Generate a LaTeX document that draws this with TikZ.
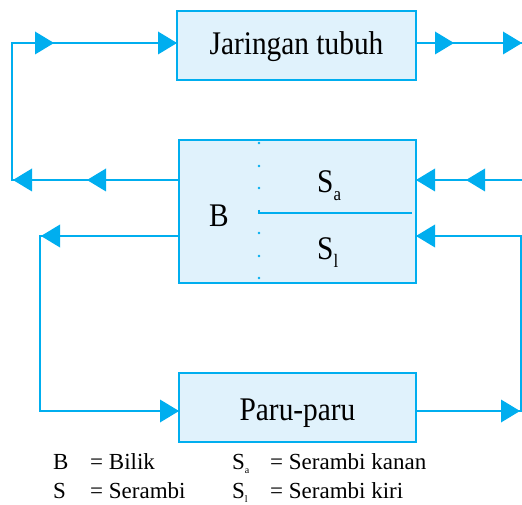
\documentclass[tikz,border=0pt]{standalone}
\usepackage{fontspec}
\setmainfont{Liberation Serif}
\newfontfamily\boxfont[FakeStretch=0.89]{Liberation Serif}
\usetikzlibrary{decorations.markings}
\definecolor{lineblue}{HTML}{00AEEF}
\definecolor{boxfill}{HTML}{E0F2FC}
\newcommand\flowtip{\fill[lineblue] (0pt,0pt) -- (-19pt,11.5pt) -- (-19pt,-11.5pt) -- cycle;}
\newcommand\bigsub[1]{\raisebox{-8pt}{\fontsize{19}{19}\selectfont #1}}
\newcommand\smallsub[1]{\raisebox{-4.5pt}{\fontsize{10}{10}\selectfont #1}}
\tikzset{
  organ/.style={draw=lineblue, fill=boxfill, line width=2pt, inner sep=0pt, outer sep=0pt,
    minimum width=237pt, minimum height=69pt, text depth=0pt,
    font=\boxfont\fontsize{33}{34}\selectfont},
  flow/.style={draw=lineblue, line width=2.2pt, postaction={decorate}},
  inbox/.style={inner sep=0pt, anchor=base west, font=\boxfont\fontsize{33}{34}\selectfont},
  legend/.style={inner sep=0pt, anchor=base west, font=\fontsize{23}{24}\selectfont},
  dividerline/.style={draw=lineblue, line width=2pt},
}
\begin{document}
\begin{tikzpicture}[x=1pt,y=-1pt]
\useasboundingbox (0,0) rectangle (522,505);

% boxes
\node[organ, minimum width=239pt, text height=19pt] (jar) at (296.5,45.5) {Jaringan tubuh};
\node[organ, minimum height=143pt] (heart) at (297.5,211.5) {};
\node[organ, text height=25pt] (paru) at (297.5,407.5) {Paru-paru};

% inside the heart box
\foreach \yy in {143,166,188,233,256,278}
  \fill[lineblue] (259,\yy) circle (1.3pt);
\draw[dividerline] (259,210) -- (259,213) -- (412,213);
\node[inbox] (B) at (209,227) {B};
\node[inbox] (Sa) at (317,193) {S\bigsub{a}};
\node[inbox] (Sl) at (317,259) {S\bigsub{l}};

% named points
\coordinate (hlu) at ([yshift=31.5pt]heart.west);
\coordinate (hld) at ([yshift=-24.5pt]heart.west);
\coordinate (hru) at ([yshift=31.5pt]heart.east);
\coordinate (hrd) at ([yshift=-24.5pt]heart.east);
\coordinate (jw) at ([yshift=2.5pt]jar.west);
\coordinate (je) at ([yshift=2.5pt]jar.east);
\coordinate (pw) at ([yshift=-3.5pt]paru.west);
\coordinate (pe) at ([yshift=-3.5pt]paru.east);
\coordinate (c1) at (12,180);
\coordinate (c2) at (12,43);
\coordinate (c3) at (522,43);
\coordinate (c4) at (522,180);
\coordinate (c5) at (40,236);
\coordinate (c6) at (40,411);
\coordinate (c7) at (521,411);
\coordinate (c8) at (521,236);

% connectors
\draw[flow, decoration={markings,
    mark=at position 92pt with {\flowtip},
    mark=at position 166pt with {\flowtip},
    mark=at position 346pt with {\flowtip},
    mark=at position 1 with {\flowtip}}]
  (hlu) -- (c1) -- (c2) -- (jw);
\draw[flow, decoration={markings,
    mark=at position 38pt with {\flowtip},
    mark=at position 1 with {\flowtip}}]
  (je) -- (c3);
\draw[flow, decoration={markings,
    mark=at position 56pt with {\flowtip},
    mark=at position 1 with {\flowtip}}]
  (c4) -- (hru);
\draw[flow, decoration={markings,
    mark=at position 138pt with {\flowtip},
    mark=at position 1 with {\flowtip}}]
  (hld) -- (c5) -- (c6) -- (pw);
\draw[flow, decoration={markings,
    mark=at position 104pt with {\flowtip},
    mark=at position 1 with {\flowtip}}]
  (pe) -- (c7) -- (c8) -- (hrd);

% legend
\node[legend] (lB) at (53,469) {B};
\node[legend] (lBe) at (90,469) {= Bilik};
\node[legend] (lS) at (53,498) {S};
\node[legend] (lSe) at (90,498) {= Serambi};
\node[legend] (lSa) at (232,469) {S\smallsub{a}};
\node[legend] (lSae) at (270,469) {= Serambi kanan};
\node[legend] (lSl) at (232,498) {S\smallsub{l}};
\node[legend] (lSle) at (270,498) {= Serambi kiri};
\end{tikzpicture}
\end{document}
